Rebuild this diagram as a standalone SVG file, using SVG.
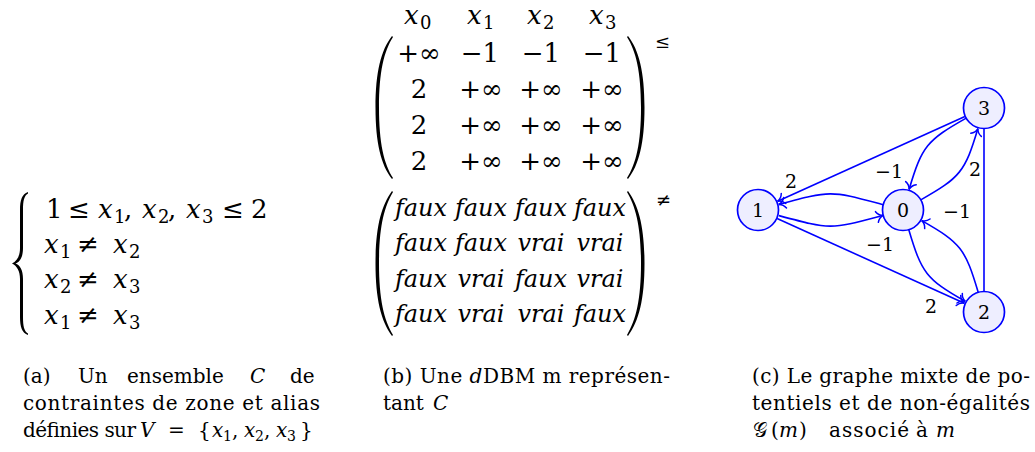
<svg xmlns="http://www.w3.org/2000/svg" width="1035" height="452" viewBox="0 0 1035 452" font-family="DejaVu Serif, serif">
<style>
text{fill:#000;font-family:"DejaVu Serif",serif}
.m{font-size:26px}
.f{font-size:24px}
.i{font-style:italic}
.c{text-anchor:middle}
.cap{font-size:20px}
.sub{font-size:18px}
.csub{font-size:14px}
.lab{font-size:19px}
.edge{fill:none;stroke:#0000ff;stroke-width:1.6}
.node circle{fill:#eeeeff;stroke:#0000ff;stroke-width:1.7}
.delim{fill:#000}
</style>
<defs>
<marker id="to" markerUnits="userSpaceOnUse" markerWidth="14" markerHeight="14" refX="0" refY="0" viewBox="-8 -7 10 14" orient="auto" overflow="visible">
<path d="M-6.5,-5.5 C-5,-2.2 -2,-0.5 0,0 C-2,0.5 -5,2.2 -6.5,5.5" fill="none" stroke="#0000ff" stroke-width="1.5" stroke-linecap="round"/>
</marker>
</defs>

<g id="system">
<path class="delim" d="M28,192 C22,194 20,200 20,210 L20,248 C20,256 17,261 12,263.5 C17,266 20,271 20,279 L20,317 C20,327 22,333 28,335 L28,333.5 C24,331 23,326 23,317 L23,279 C23,270 20,265 15.5,263.5 C20,262 23,257 23,248 L23,210 C23,201 24,196 28,193.5 Z"/>
<text class="m" y="218"><tspan x="46">1</tspan><tspan x="68">≤</tspan><tspan x="98" class="i">x</tspan><tspan x="114" dy="5" class="sub">1</tspan><tspan x="124" dy="-5">,</tspan><tspan x="142" class="i">x</tspan><tspan x="158" dy="5" class="sub">2</tspan><tspan x="168" dy="-5">,</tspan><tspan x="186" class="i">x</tspan><tspan x="202" dy="5" class="sub">3</tspan><tspan x="222" dy="-5">≤</tspan><tspan x="251">2</tspan></text>
<text class="m" y="253"><tspan x="44" class="i">x</tspan><tspan x="60" dy="5" class="sub">1</tspan><tspan x="77" dy="-5">≠</tspan><tspan x="113" class="i">x</tspan><tspan x="129" dy="5" class="sub">2</tspan></text>
<text class="m" y="288"><tspan x="44" class="i">x</tspan><tspan x="60" dy="5" class="sub">2</tspan><tspan x="77" dy="-5">≠</tspan><tspan x="113" class="i">x</tspan><tspan x="129" dy="5" class="sub">3</tspan></text>
<text class="m" y="324"><tspan x="44" class="i">x</tspan><tspan x="60" dy="5" class="sub">1</tspan><tspan x="77" dy="-5">≠</tspan><tspan x="113" class="i">x</tspan><tspan x="129" dy="5" class="sub">3</tspan></text>
</g>

<g id="matrix-potentials">
<text class="m" y="24"><tspan x="404" class="i">x</tspan><tspan x="420" dy="5" class="sub">0</tspan><tspan x="467" dy="-5" class="i">x</tspan><tspan x="483" dy="5" class="sub">1</tspan><tspan x="527" dy="-5" class="i">x</tspan><tspan x="543" dy="5" class="sub">2</tspan><tspan x="589" dy="-5" class="i">x</tspan><tspan x="605" dy="5" class="sub">3</tspan></text>
<path class="delim" d="M392,36 C381,50 375.5,72 375.5,107.5 C375.5,143 381,165 392,179 L393,178 C384,164 379,143 379,107.5 C379,72 384,51 393,37 Z"/>
<path class="delim" d="M628,36 C639,50 644.5,72 644.5,107.5 C644.5,143 639,165 628,179 L627,178 C636,164 641,143 641,107.5 C641,72 636,51 627,37 Z"/>
<text class="m c" y="62"><tspan x="419">+∞</tspan><tspan x="480">−1</tspan><tspan x="541">−1</tspan><tspan x="602">−1</tspan></text>
<text class="m c" y="98"><tspan x="419">2</tspan><tspan x="481">+∞</tspan><tspan x="541">+∞</tspan><tspan x="602">+∞</tspan></text>
<text class="m c" y="134"><tspan x="419">2</tspan><tspan x="481">+∞</tspan><tspan x="541">+∞</tspan><tspan x="602">+∞</tspan></text>
<text class="m c" y="170"><tspan x="419">2</tspan><tspan x="481">+∞</tspan><tspan x="541">+∞</tspan><tspan x="602">+∞</tspan></text>
<text class="sub" x="655" y="48">≤</text>
</g>

<g id="matrix-nonequal">
<path class="delim" d="M392,191 C381,206 375.5,228 375.5,263.5 C375.5,299 381,321 392,336 L393,335 C384,320 379,299 379,263.5 C379,228 384,207 393,192 Z"/>
<path class="delim" d="M628,191 C639,206 644.5,228 644.5,263.5 C644.5,299 639,321 628,336 L627,335 C636,320 641,299 641,263.5 C641,228 636,207 627,192 Z"/>
<text class="f c i" y="216"><tspan x="421">faux</tspan><tspan x="481">faux</tspan><tspan x="541">faux</tspan><tspan x="600">faux</tspan></text>
<text class="f c i" y="251"><tspan x="421">faux</tspan><tspan x="481">faux</tspan><tspan x="541">vrai</tspan><tspan x="600">vrai</tspan></text>
<text class="f c i" y="287"><tspan x="421">faux</tspan><tspan x="481">vrai</tspan><tspan x="541">faux</tspan><tspan x="600">vrai</tspan></text>
<text class="f c i" y="322"><tspan x="421">faux</tspan><tspan x="481">vrai</tspan><tspan x="541">vrai</tspan><tspan x="600">faux</tspan></text>
<text class="sub" x="656" y="206">≠</text>
</g>

<g id="connectors">
<path class="edge" d="M964.9,116.6 L777.6,201.2" marker-end="url(#to)"/>
<path class="edge" d="M777.1,218.6 L964.4,303.2" marker-end="url(#to)"/>
<path class="edge" d="M984,129 L984,291"/>
<path class="edge" d="M883.2,204.7 C830.1,190.5 831.9,190.2 778.8,204.4" marker-end="url(#to)"/>
<path class="edge" d="M778.8,215.6 C831.9,229.8 830.1,229.5 883.2,215.3" marker-end="url(#to)"/>
<path class="edge" d="M920.8,199.9 C960,177.7 965.1,171.8 977.9,128.6" marker-end="url(#to)"/>
<path class="edge" d="M966.2,118.1 C927,140.2 921.9,146.2 909.1,189.4" marker-end="url(#to)"/>
<path class="edge" d="M908.8,229.7 C921.6,272.9 926.1,279.3 965.3,301.4" marker-end="url(#to)"/>
<path class="edge" d="M978.2,292.3 C965.4,249.1 960.9,242.7 921.7,220.6" marker-end="url(#to)"/>
<text class="lab c" x="791" y="188">2</text>
<text class="lab c" x="889" y="178">−1</text>
<text class="lab c" x="975" y="176">2</text>
<text class="lab c" x="957" y="218">−1</text>
<text class="lab c" x="880" y="251">−1</text>
<text class="lab c" x="931" y="313">2</text>
</g>
<g id="node0" class="node"><circle cx="903" cy="210" r="20.5"/><text class="lab c" x="903" y="217">0</text></g>
<g id="node1" class="node"><circle cx="758" cy="210" r="20.5"/><text class="lab c" x="758" y="217">1</text></g>
<g id="node2" class="node"><circle cx="984" cy="312" r="20.5"/><text class="lab c" x="984" y="319">2</text></g>
<g id="node3" class="node"><circle cx="984" cy="108" r="20.5"/><text class="lab c" x="984" y="115">3</text></g>

<g id="caption-a">
<text class="cap" y="383"><tspan x="23">(a)</tspan><tspan x="78">Un</tspan><tspan x="127">ensemble</tspan><tspan x="250" class="i">C</tspan><tspan x="290">de</tspan></text>
<text class="cap" x="23" y="410" textLength="297" lengthAdjust="spacing">contraintes de zone et alias</text>
<text class="cap" y="437"><tspan x="23" textLength="113" lengthAdjust="spacing">définies sur</tspan><tspan x="140" class="i">V</tspan><tspan x="168">=</tspan><tspan x="198">{</tspan><tspan x="212" class="i">x</tspan><tspan x="223" dy="4" class="csub">1</tspan><tspan x="232" dy="-4">,</tspan><tspan x="244" class="i">x</tspan><tspan x="255" dy="4" class="csub">2</tspan><tspan x="264" dy="-4">,</tspan><tspan x="276" class="i">x</tspan><tspan x="287" dy="4" class="csub">3</tspan><tspan x="300" dy="-4">}</tspan></text>
</g>
<g id="caption-b">
<text class="cap" x="383" y="383" textLength="287" lengthAdjust="spacing">(b) Une <tspan class="i">d</tspan>DBM m représen-</text>
<text class="cap" y="410"><tspan x="383">tant</tspan><tspan x="433" class="i">C</tspan></text>
</g>
<g id="caption-c">
<text class="cap" x="752" y="383" textLength="278" lengthAdjust="spacing">(c) Le graphe mixte de po-</text>
<text class="cap" x="752" y="410" textLength="278" lengthAdjust="spacing">tentiels et de non-égalités</text>
<text class="cap" y="437"><tspan x="753">𝒢</tspan><tspan x="771">(</tspan><tspan x="779" class="i">m</tspan><tspan x="799">)</tspan><tspan x="829" textLength="80" lengthAdjust="spacing">associé</tspan><tspan x="916">à</tspan><tspan x="936" class="i">m</tspan></text>
</g>
</svg>
